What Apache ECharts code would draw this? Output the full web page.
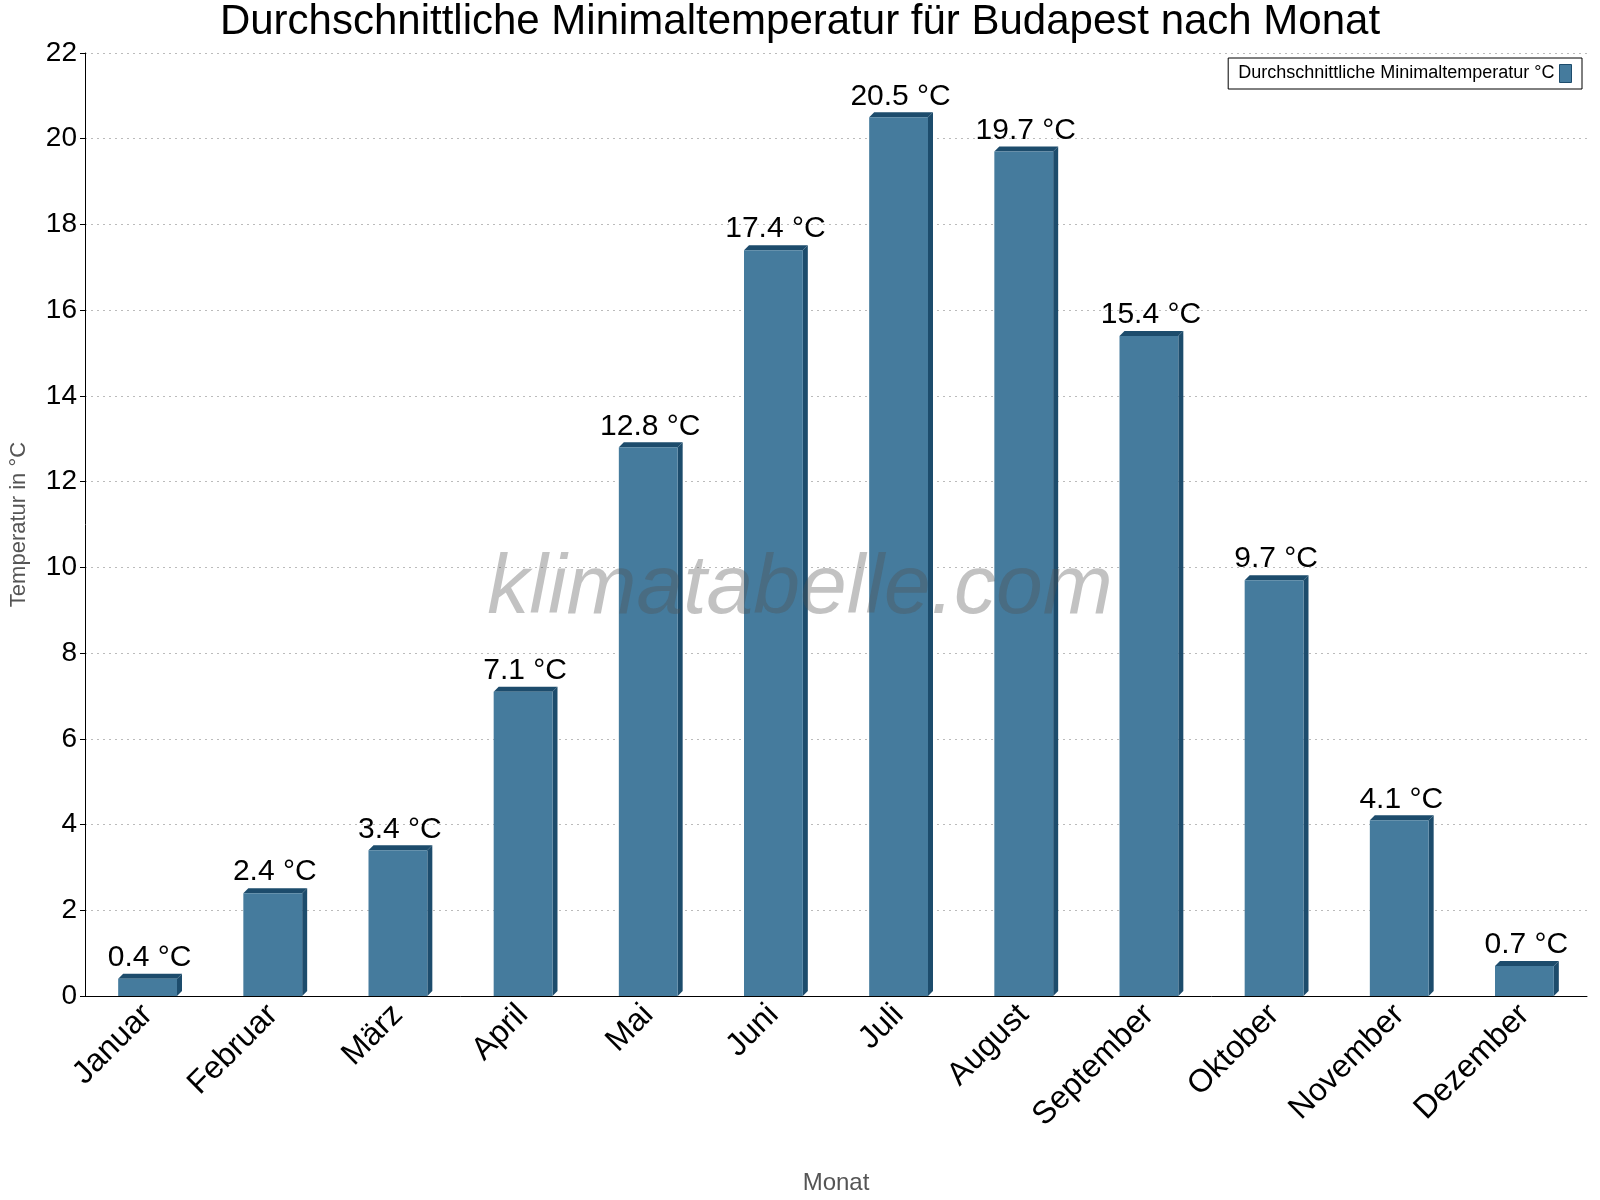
<!DOCTYPE html>
<html><head><meta charset="utf-8">
<script src="https://cdn.jsdelivr.net/npm/echarts@6/dist/echarts.min.js"></script>
<style>html,body{margin:0;padding:0;background:#fff}#c{width:1600px;height:1200px}</style>
</head><body><div id="c"></div>
<script>
const months = ['Januar','Februar','März','April','Mai','Juni','Juli','August','September','Oktober','November','Dezember'];
const minTemp = [0.4,2.4,3.4,7.1,12.8,17.4,20.5,19.7,15.4,9.7,4.1,0.7];
const yTicks = {min:0,max:22,interval:2};
const chart = echarts.init(document.getElementById('c'));
chart.setOption({
  animation:false,
  backgroundColor:'#fff',
  title:{text:'Durchschnittliche Minimaltemperatur für Budapest nach Monat',left:'center',top:-4,
    textStyle:{fontFamily:'Liberation Sans',fontSize:42,fontWeight:'normal',color:'#000'}},
  graphic:[{type:'text',left:'center',top:548,z:100,style:{text:'klimatabelle.com',fontFamily:'Liberation Sans',fontStyle:'italic',fontSize:84,fill:'rgba(80,80,80,0.35)'}}],
  legend:{right:18,top:58,itemWidth:12,itemHeight:18,icon:'rect',align:'right',
    borderColor:'#000',borderWidth:1,borderRadius:0,padding:[6,10],
    textStyle:{fontFamily:'Liberation Sans',fontSize:18,color:'#000'},
    data:[{name:'Durchschnittliche Minimaltemperatur °C',itemStyle:{color:'#457b9d',borderColor:'#1d4c6c',borderWidth:1}}]},
  grid:{left:85,right:13,top:53,bottom:203},
  xAxis:{type:'category',data:months,name:'Monat',nameLocation:'middle',nameGap:175,
    nameTextStyle:{fontFamily:'Liberation Sans',fontSize:24,color:'#555'},
    axisLine:{lineStyle:{color:'#000'}},axisTick:{lineStyle:{color:'#000'}},
    axisLabel:{rotate:45,fontFamily:'Liberation Sans',fontSize:32,color:'#000',margin:14}},
  yAxis:{type:'value',min:yTicks.min,max:yTicks.max,interval:yTicks.interval,
    name:'Temperatur in °C',nameLocation:'middle',nameGap:55,
    nameTextStyle:{fontFamily:'Liberation Sans',fontSize:22,color:'#555'},
    axisLine:{show:true,lineStyle:{color:'#000'}},axisTick:{show:true,lineStyle:{color:'#000'}},
    axisLabel:{fontFamily:'Liberation Sans',fontSize:28,color:'#000'},
    splitLine:{lineStyle:{color:'#bbb',type:[2,4]}}},
  series:[{name:'Durchschnittliche Minimaltemperatur °C',type:'custom',
    data:minTemp.map((v,i)=>[i,v]),
    itemStyle:{color:'#457b9d'},
    renderItem:function(params,api){
      const p=api.coord([api.value(0),api.value(1)]);
      const b=api.coord([api.value(0),0]);
      const w=api.size([1,0])[0]*0.47, d=5;
      const x0=p[0]-w/2, x1=p[0]+w/2;
      return {type:'group',children:[
        {type:'polygon',shape:{points:[[x1,p[1]],[x1+d,p[1]-d],[x1+d,b[1]-d],[x1,b[1]]]},style:{fill:'#1d4c6c'}},
        {type:'polygon',shape:{points:[[x0,p[1]],[x0+d,p[1]-d],[x1+d,p[1]-d],[x1,p[1]]]},style:{fill:'#1d4c6c'}},
        {type:'rect',shape:{x:x0,y:p[1],width:w,height:b[1]-p[1]},style:{fill:'#457b9d'}},
        {type:'text',style:{text:api.value(1).toFixed(1)+' °C',x:p[0]+2,y:p[1]-6,align:'center',verticalAlign:'bottom',
          font:'30px "Liberation Sans"',fill:'#000'}}
      ]};
    }}]
});
</script></body></html>
